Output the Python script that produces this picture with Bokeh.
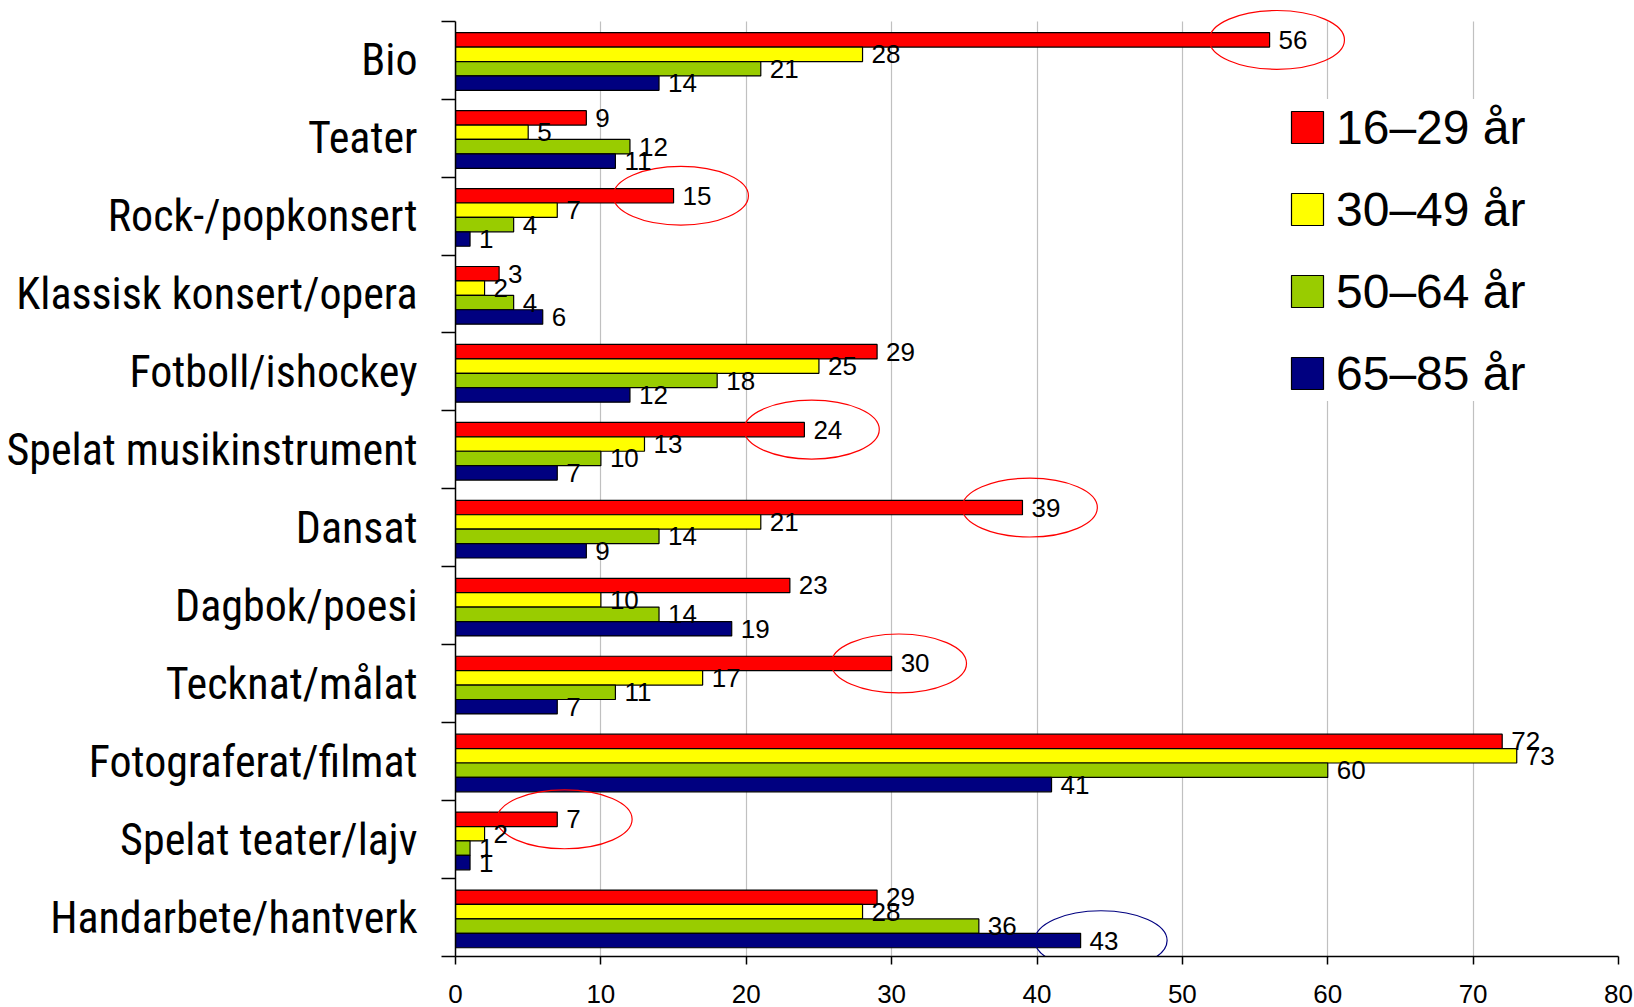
import os
import glob
from bokeh.plotting import figure
from bokeh.models import Range1d, FixedTicker, Legend, LegendItem, ColumnDataSource
from bokeh.embed import file_html
from bokeh.resources import INLINE
from bokeh.core.properties import value

categories = ["Bio", "Teater", "Rock-/popkonsert", "Klassisk konsert/opera",
              "Fotboll/ishockey", "Spelat musikinstrument", "Dansat", "Dagbok/poesi",
              "Tecknat/målat", "Fotograferat/filmat", "Spelat teater/lajv",
              "Handarbete/hantverk"]
series_names = ["16–29 år", "30–49 år", "50–64 år", "65–85 år"]
age_16_29 = [56, 9, 15, 3, 29, 24, 39, 23, 30, 72, 7, 29]
age_30_49 = [28, 5, 7, 2, 25, 13, 21, 10, 17, 73, 2, 28]
age_50_64 = [21, 12, 4, 4, 18, 10, 14, 14, 11, 60, 1, 36]
age_65_85 = [14, 11, 1, 6, 12, 7, 9, 19, 7, 41, 1, 43]
x_ticks = [0, 10, 20, 30, 40, 50, 60, 70, 80]
highlight_red = ["Bio", "Rock-/popkonsert", "Spelat musikinstrument", "Dansat",
                 "Tecknat/målat", "Spelat teater/lajv"]
highlight_blue = ["Handarbete/hantverk"]

colors = ["#FF0000", "#FFFF00", "#99CC00", "#000080"]
series = [age_16_29, age_30_49, age_50_64, age_65_85]
offsets = [0.52, 0.15, -0.22, -0.59]
bar_h = 0.37


def has_font(pattern):
    dirs = ["/usr/share/fonts", "/usr/local/share/fonts",
            os.path.expanduser("~/.fonts"), os.path.expanduser("~/.local/share/fonts")]
    for d in dirs:
        if os.path.isdir(d) and glob.glob(os.path.join(d, "**", pattern), recursive=True):
            return True
    return False


if has_font("LiberationSansNarrow-Regular*"):
    cat_font, cat_size = "Liberation Sans Narrow", "46px"
elif has_font("RobotoCondensed*"):
    cat_font, cat_size = "Roboto Condensed", "44px"
else:
    cat_font, cat_size = "Liberation Sans", "39px"

n = len(categories)
centers = [2 * (n - 1 - i) + 1 for i in range(n)]
y_top = 2 * n

p = figure(width=1634, height=1007, output_backend="svg", toolbar_location=None,
           x_range=Range1d(0, 80), y_range=Range1d(0, y_top + 0.531),
           min_border_left=455, min_border_right=16, min_border_top=0,
           min_border_bottom=51)
p.outline_line_color = None
p.background_fill_color = "white"

# grid
p.ygrid.visible = False
p.xgrid.ticker = FixedTicker(ticks=x_ticks[1:])
p.xgrid.grid_line_color = "#C0C0C0"
p.xgrid.grid_line_width = 1.2
p.xgrid.cross_bounds = (0, y_top)

renderers = []
sources = []
for k, vals in enumerate(series):
    src = ColumnDataSource(dict(
        y=[c + offsets[k] for c in centers],
        v=vals,
        lab=[str(v) for v in vals],
    ))
    sources.append(src)
    r = p.hbar(y="y", left=0, right="v", height=bar_h, source=src,
               fill_color=colors[k], line_color="black", line_width=1.2)
    renderers.append(r)

# highlight ellipses
ex, ey = [], []
for c in highlight_red:
    i = categories.index(c)
    ex.append(age_16_29[i] + 0.5)
    ey.append(centers[i] + offsets[0])
p.ellipse(x=ex, y=ey, width=9.3, height=1.51, fill_color=None,
          line_color="#FF0000", line_width=1.2)
bx, by = [], []
for c in highlight_blue:
    i = categories.index(c)
    bx.append(age_65_85[i] + 1.4)
    by.append(centers[i] + offsets[3])
p.ellipse(x=bx, y=by, width=9.1, height=1.53, fill_color=None,
          line_color="#000080", line_width=1.2)

# value labels
for src in sources:
    p.text(x="v", y="y", text="lab", source=src, x_offset=9,
           text_baseline="middle", text_align="left",
           text_font=value("Liberation Sans"), text_font_size="26px",
           text_color="black")

# y axis
yax = p.yaxis[0]
yax.ticker = FixedTicker(ticks=centers, minor_ticks=list(range(0, y_top + 1, 2)))
yax.major_label_overrides = {c: name for c, name in zip(centers, categories)}
yax.bounds = (0, y_top)
yax.major_tick_out = 0
yax.major_tick_in = 0
yax.minor_tick_out = 14
yax.minor_tick_in = 0
yax.minor_tick_line_color = "black"
yax.minor_tick_line_width = 1.5
yax.axis_line_color = "black"
yax.axis_line_width = 1.5
yax.major_label_standoff = 24
yax.major_label_text_font = cat_font
yax.major_label_text_font_size = cat_size
yax.major_label_text_color = "black"

# x axis
xax = p.xaxis[0]
xax.ticker = FixedTicker(ticks=x_ticks)
xax.bounds = (0, 80)
xax.major_tick_out = 8
xax.major_tick_in = 0
xax.minor_tick_out = 0
xax.minor_tick_in = 0
xax.major_tick_line_color = "black"
xax.major_tick_line_width = 1.5
xax.axis_line_color = "black"
xax.axis_line_width = 1.5
xax.major_label_standoff = 20
xax.major_label_text_line_height = 0.6
xax.major_label_text_font = "Liberation Sans"
xax.major_label_text_font_size = "26px"
xax.major_label_text_color = "black"

legend = Legend(
    items=[LegendItem(label=nm, renderers=[r]) for nm, r in zip(series_names, renderers)],
    location=(832, 555), orientation="vertical",
    glyph_width=40, glyph_height=40, label_height=56, spacing=26,
    padding=17, margin=0, label_standoff=9,
    label_text_font="Liberation Sans", label_text_font_size="48px",
    label_text_color="black", label_text_baseline="middle",
    background_fill_color="white", background_fill_alpha=1.0,
    border_line_color=None,
)
p.add_layout(legend)

open("out.html", "w").write(file_html(p, INLINE))
